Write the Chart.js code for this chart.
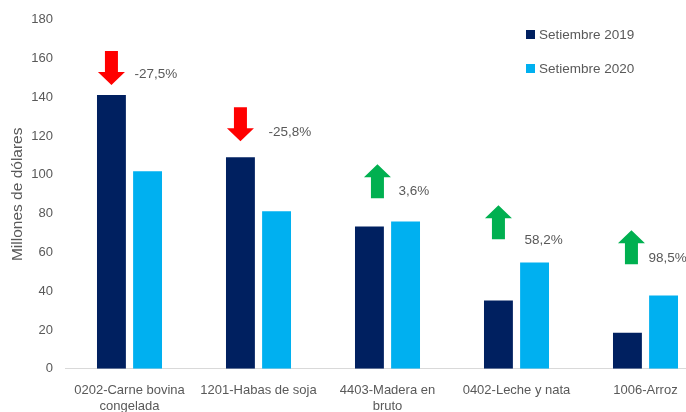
<!DOCTYPE html>
<html>
<head>
<meta charset="utf-8">
<script src="https://cdn.jsdelivr.net/npm/chart.js@4/dist/chart.umd.min.js"></script>
<style>
  html, body { margin: 0; padding: 0; background: #fff; overflow: hidden; }
  #wrap { width: 712px; height: 428px; position: relative; }
</style>
</head>
<body>
<div id="wrap"><canvas id="chart"></canvas></div>
<script>
// categorias y series
const categories = [
  ['0202-Carne bovina', 'congelada'],
  '1201-Habas de soja',
  ['4403-Madera en', 'bruto'],
  '0402-Leche y nata',
  '1006-Arroz'
];
const seriesNames = ['Setiembre 2019', 'Setiembre 2020'];
const sept2019 = [141.2, 109.1, 73.4, 35.2, 18.6];
const sept2020 = [101.9, 81.2, 76.0, 54.8, 37.8];

// variaciones y flechas (en valores del eje)
const changeLabels = ['-27,5%', '-25,8%', '3,6%', '58,2%', '98,5%'];
const arrowUp = [false, false, true, true, true];
const arrowTip = [146.4, 117.4, 105.5, 84.3, 71.4];
const changeLabelY = [152, 122, 91.6, 66.2, 56.9];

const yTicks = [0, 20, 40, 60, 80, 100, 120, 140, 160, 180];

const DARK = '#002060';
const LIGHT = '#00B0F0';
const TEXT = '#595959';
const FONT = "'Liberation Sans', Arial, sans-serif";

// flechas y etiquetas de variacion
const arrowsPlugin = {
  id: 'arrows',
  afterDatasetsDraw(chart) {
    const ctx = chart.ctx;
    const y = chart.scales.y;
    const dark = chart.getDatasetMeta(0).data;
    const light = chart.getDatasetMeta(1).data;
    const arrowDx = [0, 0, 8, 0, 4];
    const labelDx = [-13, -8, -7, -10, -15];
    ctx.save();
    categories.forEach((c, i) => {
      const cx = dark[i].x + arrowDx[i];
      const tip = y.getPixelForValue(arrowTip[i]);
      const dir = arrowUp[i] ? 1 : -1;
      const headH = 13, shaftH = 21, headW = 27, shaftW = 13;
      ctx.fillStyle = arrowUp[i] ? '#00B050' : '#FF0000';
      ctx.beginPath();
      ctx.moveTo(cx, tip);
      ctx.lineTo(cx + headW / 2, tip + dir * headH);
      ctx.lineTo(cx + shaftW / 2, tip + dir * headH);
      ctx.lineTo(cx + shaftW / 2, tip + dir * (headH + shaftH));
      ctx.lineTo(cx - shaftW / 2, tip + dir * (headH + shaftH));
      ctx.lineTo(cx - shaftW / 2, tip + dir * headH);
      ctx.lineTo(cx - headW / 2, tip + dir * headH);
      ctx.closePath();
      ctx.fill();

      ctx.fillStyle = TEXT;
      ctx.font = '13.5px ' + FONT;
      ctx.textAlign = 'left';
      ctx.textBaseline = 'middle';
      ctx.fillText(changeLabels[i], light[i].x + labelDx[i], y.getPixelForValue(changeLabelY[i]));
    });
    ctx.restore();
  }
};

// leyenda vertical
const legendPlugin = {
  id: 'sideLegend',
  afterDraw(chart) {
    const ctx = chart.ctx;
    const colors = [DARK, LIGHT];
    ctx.save();
    ctx.font = '13.5px ' + FONT;
    ctx.textBaseline = 'middle';
    ctx.textAlign = 'left';
    seriesNames.forEach((name, i) => {
      const cy = 35 + i * 34;
      ctx.fillStyle = colors[i];
      ctx.fillRect(526, cy - 5, 9, 9);
      ctx.fillStyle = TEXT;
      ctx.fillText(name, 539, cy);
    });
    ctx.restore();
  }
};

new Chart(document.getElementById('chart'), {
  type: 'bar',
  data: {
    labels: categories,
    datasets: [
      { label: seriesNames[0], data: sept2019, backgroundColor: DARK,
        categoryPercentage: 0.56, barPercentage: 0.8 },
      { label: seriesNames[1], data: sept2020, backgroundColor: LIGHT,
        categoryPercentage: 0.56, barPercentage: 0.8 }
    ]
  },
  options: {
    responsive: true,
    maintainAspectRatio: false,
    animation: false,
    layout: { padding: { top: 17, right: 2, left: 0, bottom: 0 } },
    plugins: {
      legend: { display: false },
      tooltip: { enabled: false }
    },
    scales: {
      x: {
        grid: { display: false, drawTicks: false },
        border: { color: '#D9D9D9', width: 1 },
        ticks: {
          color: TEXT,
          font: { family: FONT, size: 13 },
          padding: 14,
          maxRotation: 0,
          autoSkip: false
        }
      },
      y: {
        min: 0,
        max: 180,
        afterBuildTicks: s => { s.ticks = yTicks.map(v => ({ value: v })); },
        afterFit: s => { s.width = 65; },
        grid: { display: false, drawTicks: false },
        border: { display: false },
        ticks: {
          color: TEXT,
          font: { family: FONT, size: 13 },
          padding: 12
        },
        title: {
          display: true,
          text: 'Millones de dólares',
          color: TEXT,
          font: { family: FONT, size: 15.5 },
          padding: { top: 8, bottom: 0 }
        }
      }
    }
  },
  plugins: [arrowsPlugin, legendPlugin]
});
</script>
</body>
</html>
